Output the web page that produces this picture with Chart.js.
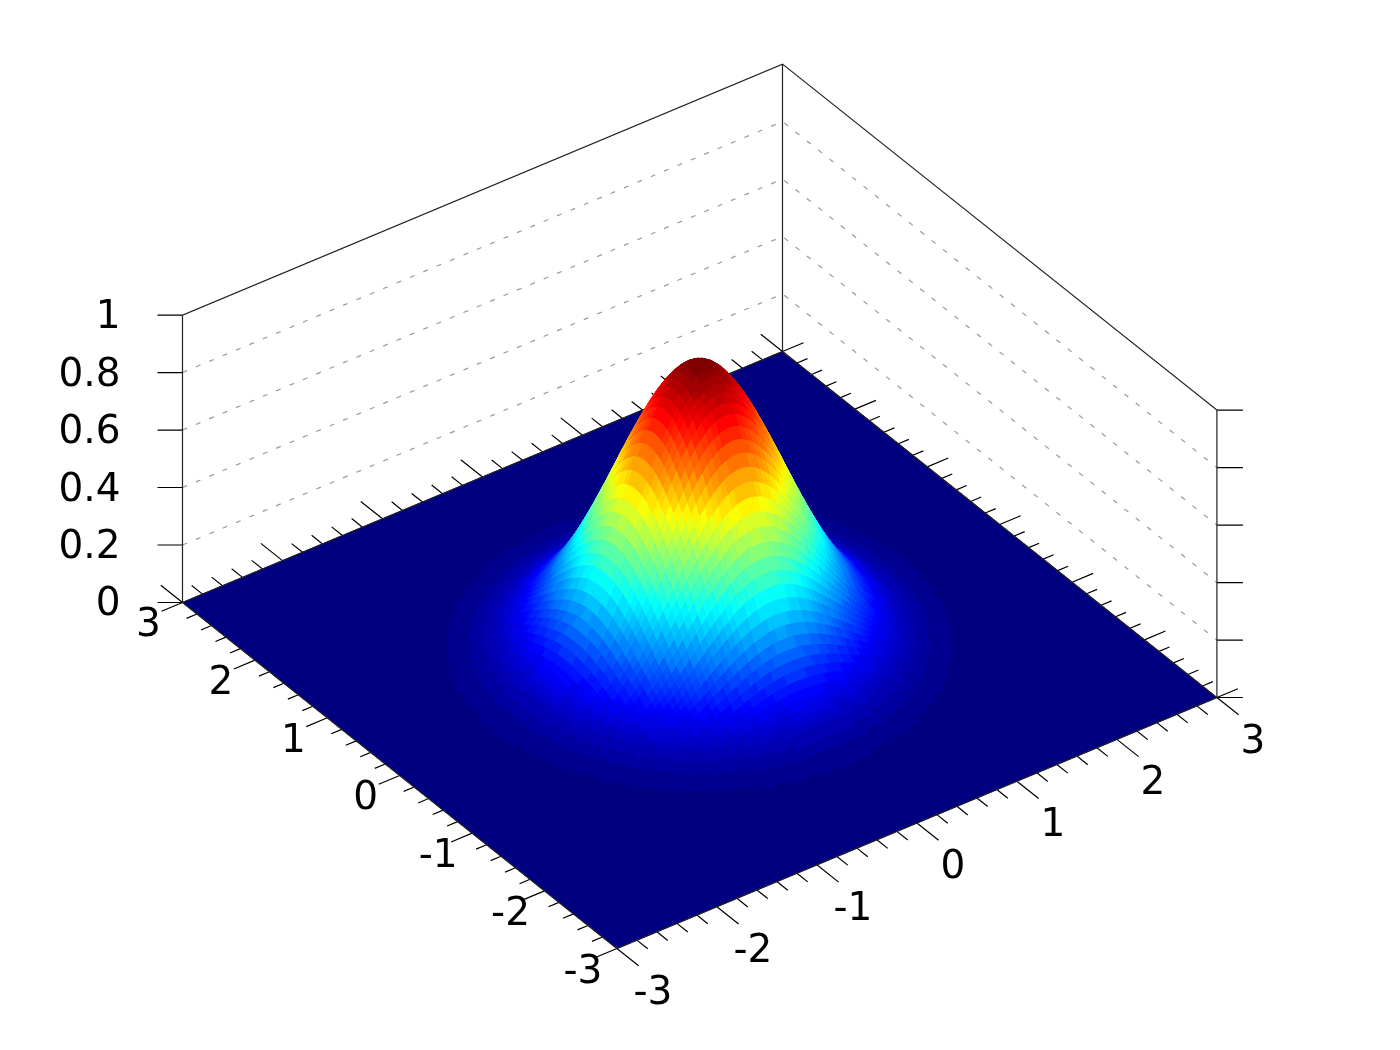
<!DOCTYPE html>
<html>
<head>
<meta charset="utf-8">
<style>
  html, body { margin: 0; padding: 0; background: #fff; }
  canvas { display: block; }
</style>
<script src="https://cdn.jsdelivr.net/npm/chart.js@4/dist/chart.umd.min.js"></script>
</head>
<body>
<canvas id="surface" width="1400" height="1050"></canvas>
<script>
// height along one axis section through the peak, every 0.05 from 0 outwards
const sectionZ = [
  1, 0.9975, 0.99, 0.9778, 0.9608, 0.9394, 0.9139, 0.8847, 0.8521, 0.8167,
  0.7788, 0.739, 0.6977, 0.6554, 0.6126, 0.5698, 0.5273, 0.4855, 0.4449, 0.4056,
  0.3679, 0.332, 0.2982, 0.2665, 0.2369, 0.2096, 0.1845, 0.1616, 0.1409, 0.1221,
  0.1054, 0.0905, 0.0773, 0.0657, 0.0556, 0.0468, 0.0392, 0.0327, 0.0271, 0.0223,
  0.0183, 0.015, 0.0122, 0.0098
];
const gridStep = 0.05;
const floorTicks = [-3, -2, -1, 0, 1, 2, 3];
const zTicks = [0, 0.2, 0.4, 0.6, 0.8, 1];
const zGrid = [0.2, 0.4, 0.6, 0.8];
const axisMin = -3;
const axisMax = 3;
const minorStep = 0.2;
const paletteSize = 64;

// 3d to 2d, the result goes on the chart's hidden linear scales
function project(x, y, z) {
  return {
    x: 699.7 + 100 * x - 72.4 * y,
    y: 650 - 41.83 * x - 57.67 * y - 287.4 * z
  };
}

function jet(level) {
  const t = level / (paletteSize - 1);
  const ramp = v => Math.max(0, Math.min(1, v));
  const r = ramp(Math.min(4 * t - 1.5, -4 * t + 4.5));
  const g = ramp(Math.min(4 * t - 0.5, -4 * t + 3.5));
  const b = ramp(Math.min(4 * t + 0.5, -4 * t + 2.5));
  return `rgb(${Math.round(r * 255)},${Math.round(g * 255)},${Math.round(b * 255)})`;
}

function heightAt(i, j) {
  return (sectionZ[Math.abs(i)] || 0) * (sectionZ[Math.abs(j)] || 0);
}

const gap = { x: NaN, y: NaN };

function lineSet(points, color, width, dash) {
  return {
    type: 'scatter', data: points, showLine: true, fill: false, pointRadius: 0,
    borderColor: color, borderWidth: width, borderDash: dash || [], tension: 0
  };
}

function polygon(points, color, edge) {
  return {
    type: 'scatter', data: points.concat([points[0]]), showLine: true, fill: 'shape', pointRadius: 0,
    backgroundColor: color, borderColor: color, borderWidth: edge, tension: 0
  };
}

// back walls: dashed grid, then the box
const gridPoints = [];
zGrid.forEach(z => {
  gridPoints.push(project(-3, 3, z), project(3, 3, z), project(3, -3, z), gap);
});
const boxPoints = [
  project(-3, 3, 0), project(-3, 3, 1), project(3, 3, 1), project(3, -3, 1), project(3, -3, 0), gap,
  project(3, 3, 1), project(3, 3, 0), gap,
  project(-3, 3, 0), project(-3, -3, 0), project(3, -3, 0), project(3, 3, 0), project(-3, 3, 0)
];

// ticks on all four floor edges, 5 intervals per unit
const tickPoints = [];
const tickCount = Math.round((axisMax - axisMin) / minorStep);
for (let n = 0; n <= tickCount; n++) {
  const t = axisMin + n * minorStep;
  const major = n % 5 === 0;
  const xLen = major ? 0.21 : 0.105;
  const yLen = major ? 0.3 : 0.15;
  tickPoints.push(project(-3, t, 0), project(-3 - xLen, t, 0), gap);
  tickPoints.push(project(3, t, 0), project(3 + xLen, t, 0), gap);
  tickPoints.push(project(t, 3, 0), project(t, 3 + yLen, 0), gap);
  tickPoints.push(project(t, -3, 0), project(t, -3 - yLen, 0), gap);
}
zTicks.forEach(z => {
  const a = project(-3, 3, z), c = project(3, -3, z);
  tickPoints.push(a, { x: a.x - 25, y: a.y }, gap, c, { x: c.x + 26, y: c.y }, gap);
});

// painter's order: far corner (x=3, y=3) first
const drawOrder = [];
drawOrder.push(lineSet(gridPoints, '#9a9a9a', 1.2, [5, 9.5]));
drawOrder.push(lineSet(tickPoints, '#000', 1.2));
drawOrder.push(polygon([project(-3, -3, 0), project(3, -3, 0), project(3, 3, 0), project(-3, 3, 0)], jet(0), 1));
drawOrder.push(lineSet(boxPoints, '#222', 1.2));

const last = sectionZ.length - 1;
for (let i = last - 1; i >= -last; i--) {
  for (let j = last - 1; j >= -last; j--) {
    const zs = [heightAt(i, j), heightAt(i + 1, j), heightAt(i + 1, j + 1), heightAt(i, j + 1)];
    const mean = (zs[0] + zs[1] + zs[2] + zs[3]) / 4;
    const level = Math.min(paletteSize - 1, Math.floor(mean * paletteSize));
    if (level < 1) continue;
    drawOrder.push(polygon([
      project(i * gridStep, j * gridStep, zs[0]),
      project((i + 1) * gridStep, j * gridStep, zs[1]),
      project((i + 1) * gridStep, (j + 1) * gridStep, zs[2]),
      project(i * gridStep, (j + 1) * gridStep, zs[3])
    ], jet(level), 1));
  }
}

// tick labels are written at their axis position through the scales
const labelFont = '39px "DejaVu Sans"';
const tickLabels = {
  id: 'tickLabels',
  afterDatasetsDraw(chart) {
    const { ctx, scales } = chart;
    const put = (text, p, dx, dy, align) => {
      ctx.textAlign = align;
      ctx.fillText(text, scales.x.getPixelForValue(p.x) + dx, scales.y.getPixelForValue(p.y) + dy);
    };
    ctx.save();
    ctx.font = labelFont;
    ctx.fillStyle = '#000';
    ctx.textBaseline = 'alphabetic';
    floorTicks.forEach(t => {
      put(String(t), project(-3, t, 0), -34, 34, 'center');
      put(String(t), project(t, -3, 0), 36, 55, 'center');
    });
    zTicks.forEach(z => {
      put(String(z), project(-3, 3, z), -62, 13, 'right');
    });
    ctx.restore();
  }
};

new Chart(document.getElementById('surface'), {
  data: { datasets: drawOrder.reverse() },
  options: {
    responsive: false,
    animation: false,
    events: [],
    layout: { padding: 0 },
    plugins: { legend: { display: false }, tooltip: { enabled: false } },
    scales: {
      x: { type: 'linear', min: 0, max: 1400, display: false },
      y: { type: 'linear', min: 0, max: 1050, reverse: true, display: false }
    }
  },
  plugins: [tickLabels]
});
</script>
</body>
</html>
